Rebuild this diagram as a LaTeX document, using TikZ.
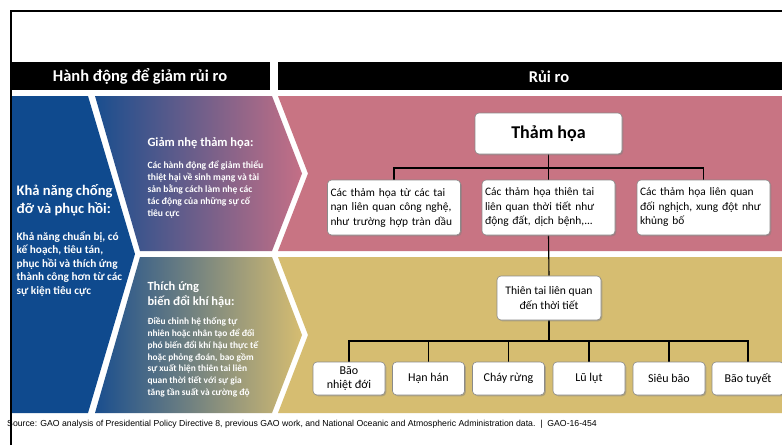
\documentclass[tikz,border=0pt]{standalone}
\usepackage{fontspec}
\setmainfont{Carlito}
\newfontfamily\notefont{Liberation Sans}
\usetikzlibrary{shadows}

\definecolor{navy}{HTML}{0F4A8E}
\definecolor{navylight}{HTML}{1A4E8E}
\definecolor{rose}{HTML}{C87483}
\definecolor{rosedeep}{HTML}{C46F86}
\definecolor{sand}{HTML}{D6BD71}
\definecolor{boxline}{HTML}{8A8A8A}

\pgfdeclarelayer{background}
\pgfsetlayers{background,main}

\tikzset{
  headbar/.style={fill=black},
  headtext/.style={text=white, font=\fontsize{16.5}{19}\selectfont\bfseries},
  paneltitle/.style={text=white, anchor=north west, align=left},
  hbox/.style={draw=boxline, line width=0.6pt, fill=white, rounded corners=4pt,
    drop shadow={shadow xshift=1.3pt, shadow yshift=-1.3pt, opacity=0.45},
    inner sep=2pt, text=black},
  leafbox/.style={hbox, minimum width=72pt, minimum height=33pt,
    font=\fontsize{12}{14}\selectfont, align=center},
  midbox/.style={hbox, minimum width=133pt, minimum height=55pt,
    text width=127pt, align=left, font=\fontsize{11.4}{14.5}\selectfont},
  link/.style={draw=black, line width=1.1pt}
}

\begin{document}
\begin{tikzpicture}[x=1pt,y=-1pt]
\useasboundingbox (0,0) rectangle (782,445);

% header bars
\fill[headbar] (12,62) rectangle (270,90);
\fill[headbar] (278,62) rectangle (782,90);
\node[headtext] (hleft) at (140,76.5) {Hành động để giảm rủi ro};
\node[headtext] (hright) at (549,76.5) {Rủi ro};

% panel texts
\node[paneltitle, font=\fontsize{14.6}{18}\selectfont\bfseries] (restitle) at (13,181)
  {Khả năng chống\\đỡ và phục hồi:};
\node[paneltitle, font=\fontsize{11.3}{13.4}\selectfont\bfseries] (resbody) at (13,228)
  {Khả năng chuẩn bị, có\\kế hoạch, tiêu tán,\\phục hồi và thích ứng\\thành công hơn từ các\\sự kiện tiêu cực};

\node[paneltitle, font=\fontsize{12.5}{15}\selectfont\bfseries] (mittitle) at (144,134)
  {Giảm nhẹ thảm họa:};
\node[paneltitle, font=\fontsize{9.6}{12}\selectfont\bfseries] (mitbody) at (144,157)
  {Các hành động để giảm thiểu\\thiệt hại về sinh mạng và tài\\sản bằng cách làm nhẹ các\\tác động của những sự cố\\tiêu cực};

\node[paneltitle, font=\fontsize{12.5}{15}\selectfont\bfseries] (adtitle) at (144,278)
  {Thích ứng\\biến đổi khí hậu:};
\node[paneltitle, font=\fontsize{9.4}{11.8}\selectfont\bfseries] (adbody) at (144,314)
  {Điều chỉnh hệ thống tự\\nhiên hoặc nhân tạo để đối\\phó biến đổi khí hậu thực tế\\hoặc phỏng đoán, bao gồm\\sự xuất hiện thiên tai liên\\quan thời tiết với sự gia\\tăng tần suất và cường độ};

% hierarchy of risks
\coordinate (busA) at (548.5,168);
\coordinate (busB) at (549,341);

\node[hbox, minimum width=147pt, minimum height=41pt,
  font=\fontsize{18}{20}\selectfont\bfseries] (disaster) at (548.5,133.5) {Thảm họa};
\node[midbox] (tech) at (394,207.5)
  {Các thảm họa từ các tai\\nạn liên quan công nghệ,\\như trường hợp tràn dầu};
\node[midbox] (natural) at (548.5,207.5)
  {Các thảm họa thiên tai\\liên quan thời tiết như\\động đất, dịch bệnh,...};
\node[midbox] (conflict) at (703.5,207.5)
  {Các thảm họa liên quan\\đối nghịch, xung đột như\\khủng bố};

\node[hbox, minimum width=104pt, minimum height=44pt, align=center,
  font=\fontsize{11.6}{14.5}\selectfont] (weather) at (549,298)
  {Thiên tai liên quan\\đến thời tiết};

\node[leafbox] (storm) at (349,378.5) {Bão\\nhiệt đới};
\node[leafbox] (drought) at (428.5,378.5) {Hạn hán};
\node[leafbox] (fire) at (508.5,378.5) {Cháy rừng};
\node[leafbox] (flood) at (589,378.5) {Lũ lụt};
\node[leafbox] (hurricane) at (669,378.5) {Siêu bão};
\node[leafbox] (blizzard) at (748,378.5) {Bão tuyết};

\begin{pgfonlayer}{background}
  \fill[white] (0,0) rectangle (782,445);
  % resilience panel
  \fill[navy] (12,96) -- (88,96) -- (135,254) -- (88,413) -- (12,413) -- cycle;
  % mitigation and adaptation panels
  \shade[left color=navylight, right color=rosedeep]
    (95,96) -- (272,96) -- (302,173.5) -- (272,251) -- (140,251) -- cycle;
  \shade[left color=navylight, right color=sand]
    (140,257) -- (272,257) -- (302,335) -- (272,413) -- (95,413) -- cycle;
  % risk panels
  \fill[rose] (278,96) -- (782,96) -- (782,251) -- (278,251) -- (308,173.5) -- cycle;
  \fill[sand] (278,257) -- (782,257) -- (782,413) -- (278,413) -- (308,335) -- cycle;
  % connectors
  \path[link] (disaster.south) -- (busA);
  \path[link] (busA) -| (tech.north);
  \path[link] (busA) -| (conflict.north);
  \path[link] (busA) -- (natural.north);
  \path[link] (natural.south) -- (weather.north);
  \path[link] (weather.south) -- (busB);
  \foreach \leaf in {storm,drought,fire,flood,hurricane,blizzard}
    \path[link] (busB) -| (\leaf.north);
\end{pgfonlayer}

% source note
\node[anchor=west, inner sep=0pt, font=\notefont\fontsize{8.7}{10}\selectfont] (source) at (7,424)
  {Source: GAO analysis of Presidential Policy Directive 8, previous GAO work, and National Oceanic and Atmospheric Administration data.~~|~~GAO-16-454};

% outer frame
\draw[line width=2.4pt] (11.2,445) -- (11.2,11) -- (782,11);
\end{tikzpicture}
\end{document}
